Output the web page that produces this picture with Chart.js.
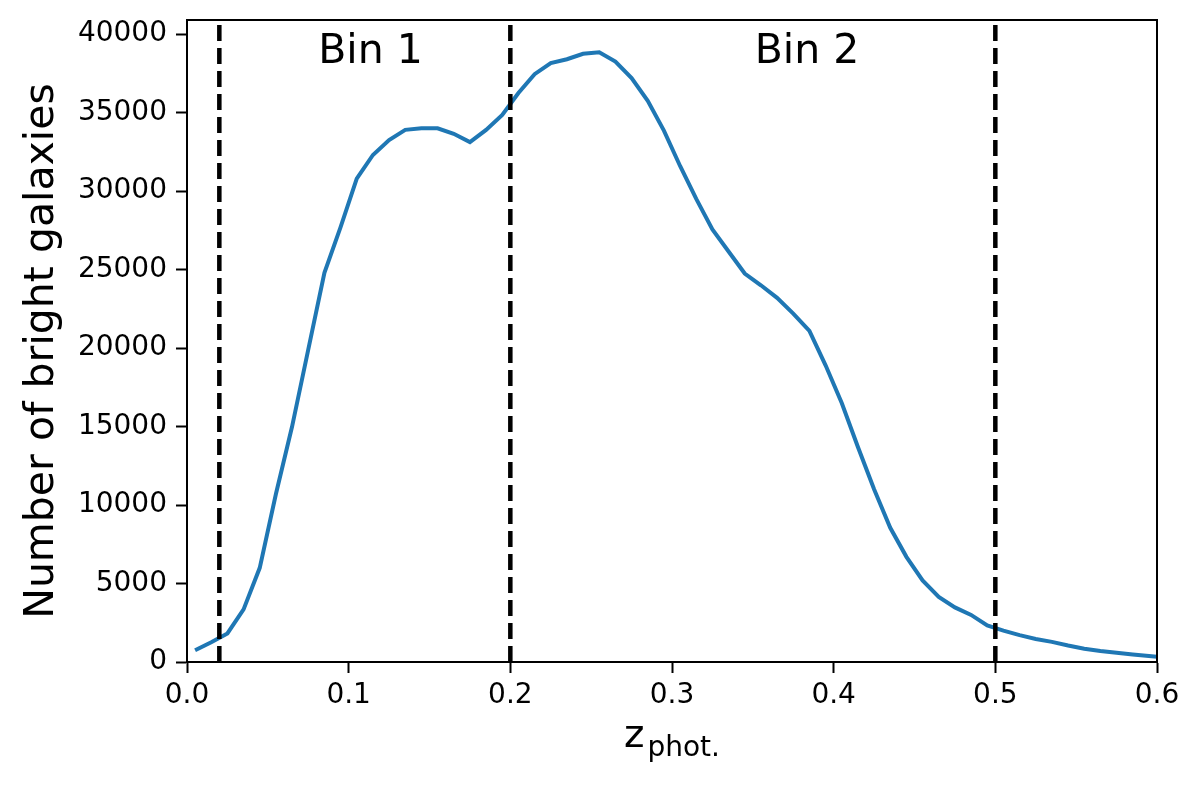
<!DOCTYPE html>
<html>
<head>
<meta charset="utf-8">
<script src="https://cdn.jsdelivr.net/npm/chart.js@4.4.1/dist/chart.umd.min.js"></script>
<style>
  html, body { margin: 0; padding: 0; background: #fff; }
  #wrap { width: 1200px; height: 786px; }
</style>
</head>
<body>
<div id="wrap"><canvas id="chart" width="1200" height="786"></canvas></div>
<script>
// photometric redshift bin centres
const zValues = [
  0.005, 0.015, 0.025, 0.035, 0.045, 0.055, 0.065, 0.075, 0.085, 0.095,
  0.105, 0.115, 0.125, 0.135, 0.145, 0.155, 0.165, 0.175, 0.185, 0.195,
  0.205, 0.215, 0.225, 0.235, 0.245, 0.255, 0.265, 0.275, 0.285, 0.295,
  0.305, 0.315, 0.325, 0.335, 0.345, 0.355, 0.365, 0.375, 0.385, 0.395,
  0.405, 0.415, 0.425, 0.435, 0.445, 0.455, 0.465, 0.475, 0.485, 0.495,
  0.505, 0.515, 0.525, 0.535, 0.545, 0.555, 0.565, 0.575, 0.585, 0.595,
  0.605
];
// number of bright galaxies per bin
const counts = [
  750, 1260, 1820, 3350, 6000, 10700, 15000, 19900, 24800, 27700,
  30800, 32300, 33250, 33900, 34000, 34000, 33650, 33120, 33900, 34850,
  36250, 37450, 38150, 38400, 38750, 38850, 38250, 37200, 35750, 33850,
  31600, 29500, 27550, 26150, 24750, 24000, 23200, 22200, 21100, 18900,
  16500, 13700, 11000, 8550, 6700, 5200, 4150, 3480, 3000, 2330,
  2000, 1710, 1470, 1280, 1050, 850, 700, 590, 480, 380,
  290
];
// bin edges (dashed lines)
const binEdges = [0.02, 0.2, 0.5];
const binLabels = ['Bin 1', 'Bin 2'];
const binLabelZ = [0.1135, 0.3835];

const xTicks = [0.0, 0.1, 0.2, 0.3, 0.4, 0.5, 0.6];
const yTicks = [0, 5000, 10000, 15000, 20000, 25000, 30000, 35000, 40000];
const xMax = 0.6;
const yMax = 40900;

const FONT = "'DejaVu Sans', sans-serif";

const edgeSets = binEdges.map(z => ({
  data: [{ x: z, y: 0 }, { x: z, y: yMax }],
  borderColor: '#000',
  borderWidth: 4.5,
  borderDash: [16, 7],
  pointRadius: 0,
  showLine: true,
  clip: 0
}));

// frame, bin labels and axis titles
const decorations = {
  id: 'decorations',
  afterDraw(chart) {
    const ctx = chart.ctx;
    const area = chart.chartArea;
    const xs = chart.scales.x;
    const ys = chart.scales.y;
    ctx.save();
    ctx.strokeStyle = '#000';
    ctx.lineWidth = 2;
    ctx.strokeRect(area.left, area.top, area.right - area.left, area.bottom - area.top);

    ctx.fillStyle = '#000';
    ctx.font = '41px ' + FONT;
    ctx.textAlign = 'center';
    ctx.textBaseline = 'alphabetic';
    binLabels.forEach((t, i) => {
      ctx.fillText(t, xs.getPixelForValue(binLabelZ[i]), ys.getPixelForValue(yMax) + 43);
    });

    // y title
    ctx.save();
    ctx.translate(53, 351);
    ctx.rotate(-Math.PI / 2);
    ctx.font = '41px ' + FONT;
    ctx.textAlign = 'center';
    ctx.fillText('Number of bright galaxies', 0, 0);
    ctx.restore();

    // x title: z with subscript
    const cx = (area.left + area.right) / 2;
    ctx.font = '39px ' + FONT;
    const w1 = ctx.measureText('z').width;
    ctx.font = '28px ' + FONT;
    const w2 = ctx.measureText('phot.').width;
    const start = cx - (w1 + w2 + 3) / 2;
    ctx.textAlign = 'left';
    ctx.font = '39px ' + FONT;
    ctx.fillText('z', start, 747);
    ctx.font = '28px ' + FONT;
    ctx.fillText('phot.', start + w1 + 3, 756);
    ctx.restore();
  }
};

new Chart(document.getElementById('chart'), {
  type: 'scatter',
  data: {
    datasets: [
      ...edgeSets,
      {
        data: zValues.map((z, i) => ({ x: z, y: counts[i] })),
        borderColor: '#1f77b4',
        borderWidth: 4,
        pointRadius: 0,
        showLine: true,
        tension: 0,
        clip: 0
      }
    ]
  },
  options: {
    responsive: false,
    animation: false,
    devicePixelRatio: 1,
    layout: { padding: { top: 20, right: 43, left: 0, bottom: 0 } },
    plugins: { legend: { display: false }, tooltip: { enabled: false } },
    scales: {
      x: {
        type: 'linear',
        min: 0,
        max: xMax,
        afterBuildTicks: s => { s.ticks = xTicks.map(v => ({ value: v })); },
        afterFit: s => { s.height = 124; s.paddingLeft = 0; s.paddingRight = 0; },
        ticks: {
          color: '#000',
          font: { family: FONT, size: 28 },
          padding: 6,
          maxRotation: 0,
          autoSkip: false,
          callback: v => Number(v).toFixed(1)
        },
        grid: { drawOnChartArea: false, drawTicks: true, tickLength: 11, tickWidth: 2, tickColor: '#000' },
        border: { display: true, color: '#000', width: 2 }
      },
      y: {
        type: 'linear',
        min: 0,
        max: yMax,
        afterBuildTicks: s => { s.ticks = yTicks.map(v => ({ value: v })); },
        afterFit: s => { s.width = 187; s.paddingTop = 0; s.paddingBottom = 0; },
        ticks: {
          color: '#000',
          font: { family: FONT, size: 28 },
          padding: 9,
          autoSkip: false,
          callback: v => String(v)
        },
        grid: { drawOnChartArea: false, drawTicks: true, tickLength: 11, tickWidth: 2, tickColor: '#000' },
        border: { display: true, color: '#000', width: 2 }
      }
    }
  },
  plugins: [decorations]
});
</script>
</body>
</html>
